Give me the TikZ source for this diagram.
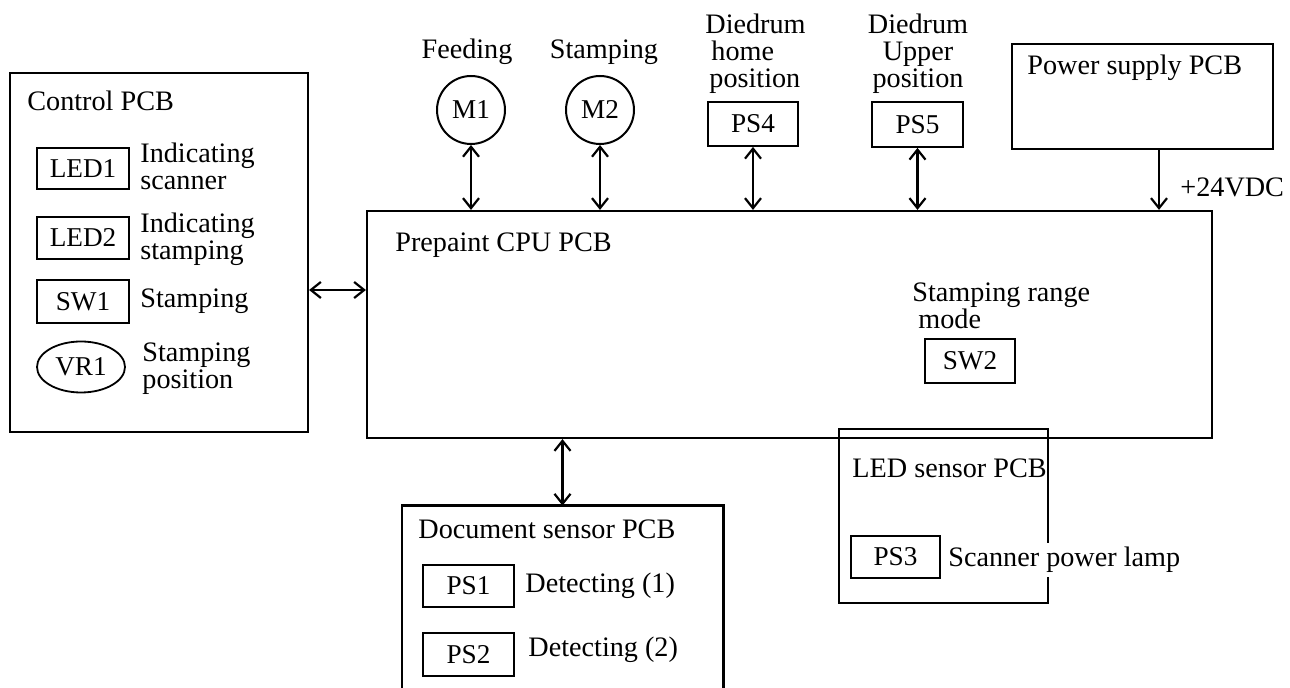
\documentclass[tikz,border=0pt]{standalone}
\usepackage{fontspec}
\setmainfont{Liberation Serif}
\usetikzlibrary{arrows.meta,shapes.geometric}
\begin{document}
\begin{tikzpicture}[x=0.5pt,y=-0.5pt,
  every node/.style={font=\fontsize{14.1}{13.5}\selectfont},
  lbl/.style={inner sep=0pt, anchor=west, align=left},
  part/.style={draw, line width=0.9pt, inner sep=0pt, font=\fontsize{13.6}{14}\selectfont},
  board/.style={draw, line width=1.1pt, inner sep=0pt},
  link/.style={line width=1.1pt, {Straight Barb[length=5pt,width=8pt,line width=1.1pt]}-{Straight Barb[length=5pt,width=8pt,line width=1.1pt]}},
  feed/.style={line width=1.1pt, -{Straight Barb[length=5pt,width=8pt,line width=1.1pt]}}]
\useasboundingbox (0,0) rectangle (1290,688);
\fill[white] (0,0) rectangle (1290,688);

% Control PCB
\node[board, minimum width=149pt, minimum height=179.5pt] (ctrl) at (159,252.5) {};
\node[lbl] (ctrlt) at (27,101) {Control PCB};
\node[part, minimum width=46pt, minimum height=20.5pt] (led1) at (83,168.5) {LED1};
\node[lbl] (led1t) at (140,166) {Indicating\\scanner};
\node[part, minimum width=46pt, minimum height=21pt] (led2) at (83,238) {LED2};
\node[lbl] (led2t) at (140,239) {Indicating\\stamping};
\node[part, minimum width=46pt, minimum height=21.5pt] (sw1) at (83,301.5) {SW1};
\node[lbl] (sw1t) at (140,301) {Stamping};
\node[part, ellipse, minimum width=44pt, minimum height=25.5pt] (vr1) at (81,367) {VR1};
\node[lbl] (vr1t) at (142,369) {Stamping\\position};

% CPU
\node[board, minimum width=422.5pt, minimum height=113.5pt] (cpu) at (789.5,324.5) {};
\node[lbl] (cput) at (395,245) {Prepaint CPU PCB};
\node[lbl] (sw2t) at (912,306) {Stamping range\\\hspace{3pt}mode};
\node[part, minimum width=45pt, minimum height=22pt] (sw2) at (970,361) {SW2};

% Top parts
\node[part, circle, minimum size=34pt, line width=1pt] (m1) at (471,110) {M1};
\node[inner sep=0pt] (m1t) at (467,52) {Feeding};
\node[part, circle, minimum size=34pt, line width=1pt] (m2) at (600,110) {M2};
\node[inner sep=0pt] (m2t) at (604,52) {Stamping};
\node[part, minimum width=45pt, minimum height=22pt] (ps4) at (753,124) {PS4};
\node[lbl] (ps4t) at (705,54) {Diedrum\\\hspace{3pt}home\\\hspace{2pt}position};
\node[part, minimum width=45.5pt, minimum height=22.5pt] (ps5) at (917.5,124.5) {PS5};
\node[inner sep=0pt, align=center] (ps5t) at (918,54) {Diedrum\\Upper\\position};
\node[board, minimum width=130.5pt, minimum height=52.5pt] (pwr) at (1142.5,96.5) {};
\node[lbl] (pwrt) at (1027,68) {Power supply PCB};
\node[lbl] (vdc) at (1180,187) {+24VDC};

% Document sensor PCB (cut off at the bottom)
\node[minimum width=160.5pt, minimum height=92pt, inner sep=0pt] (doc) at (562.5,598) {};
\draw[line width=1.1pt] (doc.south west) |- (doc.north east) -- (doc.south east);
\node[lbl] (doct) at (418,529) {Document sensor PCB};
\node[part, minimum width=45.5pt, minimum height=21pt] (ps1) at (468.5,586) {PS1};
\node[lbl] (ps1t) at (525,586) {Detecting (1)};
\node[part, minimum width=45.5pt, minimum height=21.5pt] (ps2) at (468.5,654.5) {PS2};
\node[lbl] (ps2t) at (528,650) {Detecting (2)};

% LED sensor PCB
\node[board, minimum width=104.5pt, minimum height=87pt] (ledpcb) at (943.5,516) {};
\node[lbl] (ledpcbt) at (852,468) {LED sensor PCB};
\node[part, minimum width=44.5pt, minimum height=21pt] (ps3) at (895.5,557) {PS3};
\node[lbl, fill=white, inner ysep=2pt] (ps3t) at (948,560) {Scanner power lamp};

% Connectors
\draw[link] (ctrl.east |- 0,290) -- (cpu.west |- 0,290);
\draw[link] (m1.south) -- (m1.south |- cpu.north);
\draw[link] (m2.south) -- (m2.south |- cpu.north);
\draw[link] (ps4.south) -- (ps4.south |- cpu.north);
\draw[link] (ps5.south) -- (ps5.south |- cpu.north);
\draw[feed] (pwr.south -| 1159,0) -- (cpu.north -| 1159,0);
\draw[link] (cpu.south -| doc.north) -- (doc.north);
\end{tikzpicture}
\end{document}
